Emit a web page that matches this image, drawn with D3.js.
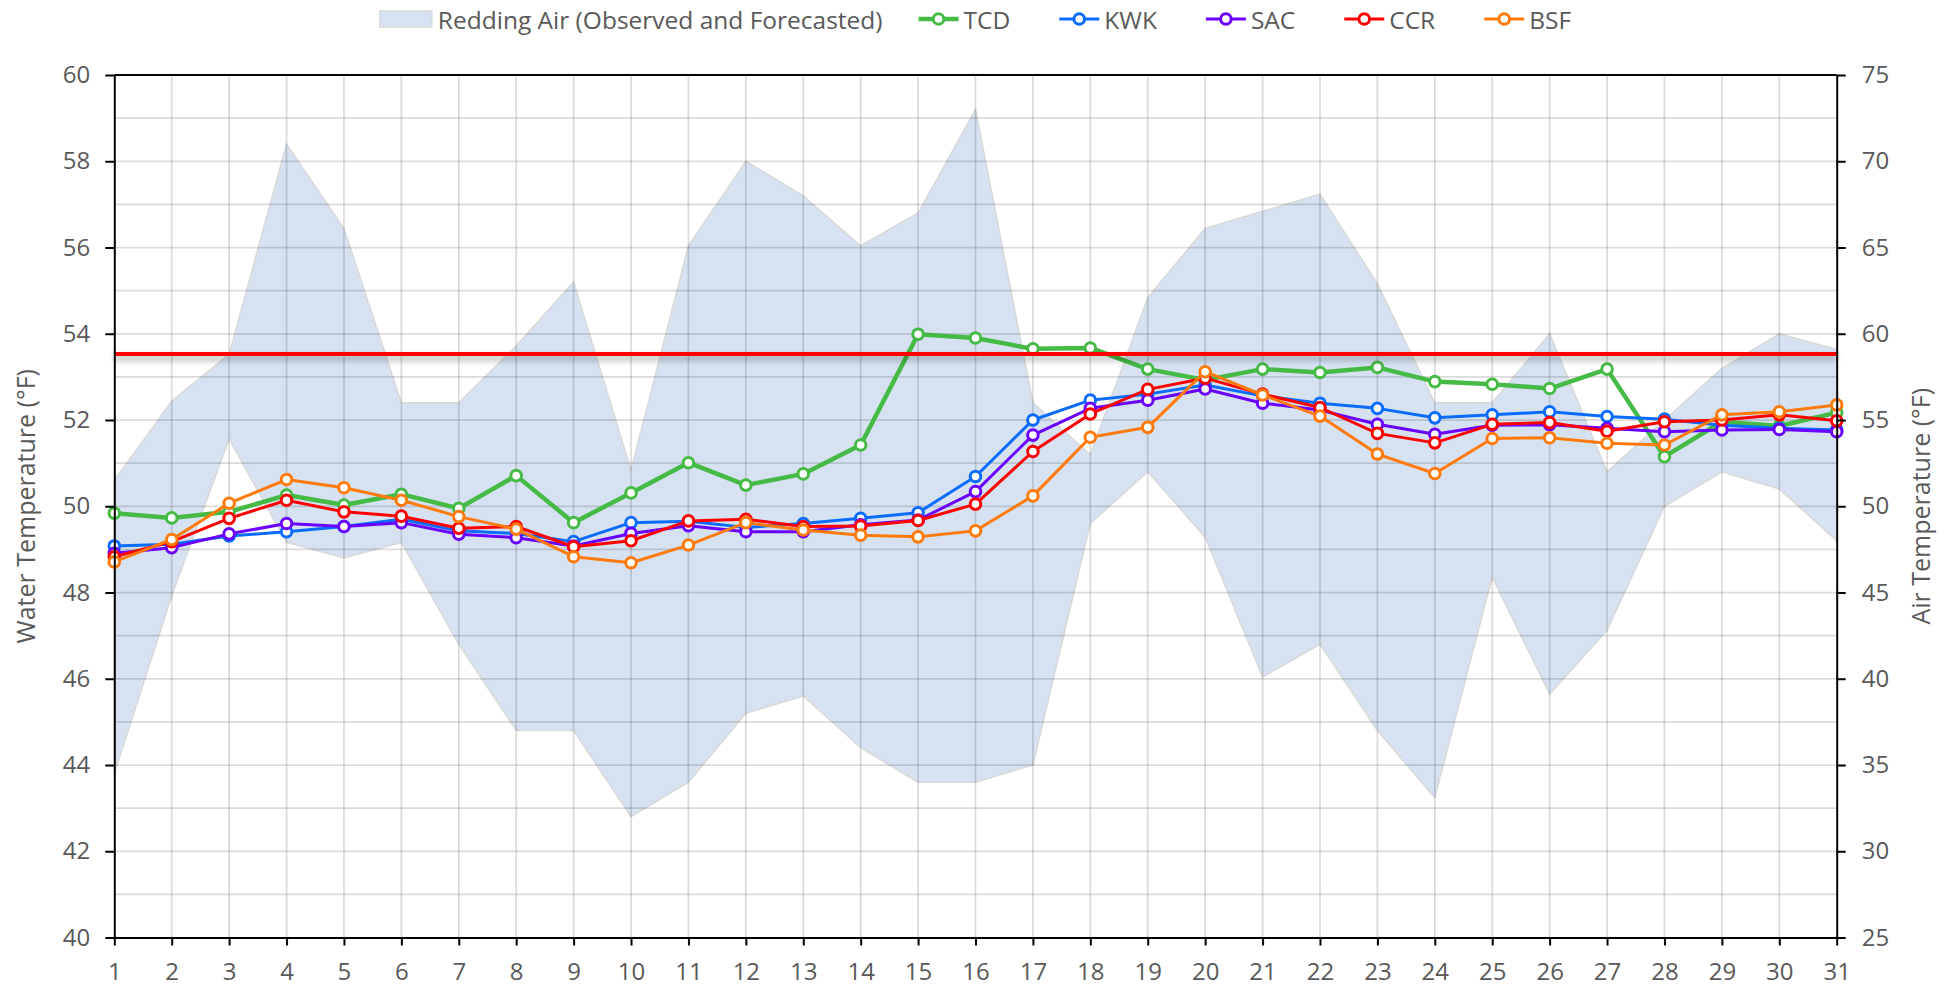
<!DOCTYPE html>
<html>
<head>
<meta charset="utf-8">
<script src="https://cdn.jsdelivr.net/npm/d3@7"></script>
<style>
  html, body { margin: 0; padding: 0; background: #ffffff; }
  svg { display: block; font-family: "Open Sans", "Segoe UI", sans-serif; }
</style>
</head>
<body>
<svg id="chart" width="1948" height="988"></svg>
<script>
// ---------------- data ----------------
const days = [1,2,3,4,5,6,7,8,9,10,11,12,13,14,15,16,17,18,19,20,21,22,23,24,25,26,27,28,29,30,31];

const airHigh = [51.5,56.1,58.8,71.0,66.1,56.0,56.0,59.3,63.0,52.1,65.1,70.0,68.0,65.1,67.0,73.0,56.0,53.0,62.1,66.1,67.1,68.1,62.9,56.0,56.0,60.0,52.0,55.0,58.0,60.0,59.1];
const airLow  = [34.5,44.8,53.9,47.9,47.0,47.9,42.0,37.0,37.0,32.0,34.0,38.0,39.0,36.0,34.0,34.0,35.0,49.0,52.0,48.2,40.1,42.0,37.0,33.1,45.9,39.1,42.8,50.0,52.0,51.0,48.0];

const TCD = [49.84,49.73,49.87,50.26,50.03,50.28,49.95,50.71,49.62,50.31,51.01,50.49,50.75,51.42,53.99,53.90,53.65,53.67,53.18,52.93,53.18,53.10,53.22,52.89,52.83,52.73,53.18,51.15,51.96,51.86,52.17];
const KWK = [49.08,49.12,49.31,49.41,49.53,49.70,49.43,49.37,49.18,49.62,49.65,49.51,49.60,49.72,49.85,50.69,52.00,52.46,52.60,52.81,52.56,52.39,52.27,52.05,52.12,52.19,52.08,52.02,51.88,51.81,51.77];
const SAC = [48.91,49.04,49.36,49.60,49.53,49.62,49.35,49.27,49.08,49.37,49.55,49.41,49.41,49.57,49.68,50.34,51.65,52.27,52.46,52.72,52.39,52.23,51.90,51.67,51.88,51.89,51.81,51.73,51.77,51.78,51.73];
const CCR = [48.83,49.18,49.72,50.14,49.87,49.77,49.49,49.53,49.06,49.20,49.66,49.70,49.53,49.54,49.67,50.05,51.27,52.14,52.71,52.97,52.60,52.29,51.69,51.47,51.90,51.94,51.74,51.96,52.00,52.12,51.98];
const BSF = [48.71,49.23,50.07,50.62,50.43,50.14,49.76,49.47,48.83,48.69,49.10,49.62,49.45,49.33,49.29,49.43,50.24,51.60,51.83,53.12,52.58,52.09,51.21,50.76,51.57,51.59,51.46,51.42,52.12,52.19,52.35];

const threshold = 53.53;

const seriesNames  = ["TCD","KWK","SAC","CCR","BSF"];
const seriesValues = [TCD, KWK, SAC, CCR, BSF];
const seriesColors = ["#45BA45","#0A6CFF","#6A00FF","#FF0000","#FF7A0A"];
const seriesWidths = [4.5, 3, 3, 3, 3];

const leftTicks  = [40,42,44,46,48,50,52,54,56,58,60];
const rightTicks = [25,30,35,40,45,50,55,60,65,70,75];
const airLabel = "Redding Air (Observed and Forecasted)";
const leftTitle = "Water Temperature (°F)";
const rightTitle = "Air Temperature (°F)";

// ---------------- layout ----------------
const L = 114.3, R = 1836.7, T = 75, B = 937.5;
const textColor = "#595959";
const tickFont = 24;
const titleFont = 25;
const legendFont = 24.5;

const svg = d3.select("#chart");

const x  = d3.scaleLinear().domain([1,31]).range([L,R]);
const yL = d3.scaleLinear().domain([40,60]).range([B,T]);
const yR = d3.scaleLinear().domain([25,75]).range([B,T]);

const defs = svg.append("defs");
const f = defs.append("filter").attr("id","shadow")
  .attr("filterUnits","userSpaceOnUse")
  .attr("x",L-20).attr("y",yL(threshold)-30).attr("width",R-L+40).attr("height",60);
f.append("feDropShadow").attr("dx",0).attr("dy",4).attr("stdDeviation",3)
 .attr("flood-color","#000").attr("flood-opacity",0.35);

// air band
const band = days.map((d,i) => ({d, lo: airLow[i], hi: airHigh[i]}));
svg.append("path")
  .datum(band)
  .attr("d", d3.area().x(p => x(p.d)).y0(p => yR(p.lo)).y1(p => yR(p.hi)))
  .attr("fill","#D6E2F2")
  .attr("stroke","#D9D9D9")
  .attr("stroke-width",1.5);

// gridlines
const grid = svg.append("g").attr("stroke","#000").attr("stroke-opacity",0.14).attr("stroke-width",1.75);
d3.range(41,60).forEach(v => {
  grid.append("line").attr("x1",L).attr("x2",R).attr("y1",yL(v)).attr("y2",yL(v));
});
days.slice(1,-1).forEach(d => {
  grid.append("line").attr("x1",x(d)).attr("x2",x(d)).attr("y1",T).attr("y2",B);
});

// series lines
seriesValues.forEach((vals, si) => {
  const g = svg.append("g");
  g.append("path")
    .datum(vals)
    .attr("d", d3.line().x((v,i) => x(days[i])).y(v => yL(v)))
    .attr("fill","none")
    .attr("stroke",seriesColors[si])
    .attr("stroke-width",seriesWidths[si])
    .attr("stroke-linejoin","round");
  g.selectAll("circle").data(vals).join("circle")
    .attr("cx",(v,i) => x(days[i]))
    .attr("cy",v => yL(v))
    .attr("r",5.3)
    .attr("fill","#fff")
    .attr("stroke",seriesColors[si])
    .attr("stroke-width",3);
});

// threshold line
svg.append("line")
  .attr("x1",L).attr("x2",R)
  .attr("y1",yL(threshold)).attr("y2",yL(threshold))
  .attr("stroke","#FF0000").attr("stroke-width",4)
  .attr("filter","url(#shadow)");

// top border
svg.append("line").attr("x1",L).attr("x2",R).attr("y1",T).attr("y2",T)
  .attr("stroke","#000").attr("stroke-width",2);

// axes
function styleAxis(g){
  g.select(".domain").attr("stroke","#000").attr("stroke-width",2);
  g.selectAll(".tick line").attr("stroke","#000").attr("stroke-width",2);
  g.selectAll(".tick text").attr("fill",textColor).attr("font-size",tickFont)
    .attr("font-family","'Open Sans', sans-serif");
}
svg.append("g").attr("transform",`translate(${L},0)`)
  .call(d3.axisLeft(yL).tickValues(leftTicks).tickSize(9).tickPadding(15).tickSizeOuter(0))
  .call(styleAxis);
svg.append("g").attr("transform",`translate(${R},0)`)
  .call(d3.axisRight(yR).tickValues(rightTicks).tickSize(9).tickPadding(16).tickSizeOuter(0))
  .call(styleAxis);
svg.append("g").attr("transform",`translate(0,${B})`)
  .call(d3.axisBottom(x).tickValues(days).tickFormat(d3.format("d")).tickSize(8).tickPadding(17).tickSizeOuter(0))
  .call(styleAxis);

// axis titles
svg.append("text")
  .attr("transform",`translate(25,${(T+B)/2}) rotate(-90)`)
  .attr("text-anchor","middle").attr("dominant-baseline","central")
  .attr("fill",textColor).attr("font-size",titleFont)
  .text(leftTitle);
svg.append("text")
  .attr("transform",`translate(1920,${(T+B)/2}) rotate(-90)`)
  .attr("text-anchor","middle").attr("dominant-baseline","central")
  .attr("fill",textColor).attr("font-size",titleFont)
  .text(rightTitle);

// legend
const lg = svg.append("g");
const ly = 19;
const itemGap = 49;
let cx = 0;
const airG = lg.append("g");
airG.append("rect").attr("x",0).attr("y",ly-8).attr("width",52).attr("height",16)
  .attr("fill","#D6E2F2").attr("stroke","#D9D9D9").attr("stroke-width",1.5);
const airT = airG.append("text").attr("x",58).attr("y",ly).attr("dominant-baseline","central")
  .attr("fill",textColor).attr("font-size",legendFont).text(airLabel);
cx = 58 + airT.node().getComputedTextLength() + 36;
seriesNames.forEach((name, si) => {
  const g = lg.append("g").attr("transform",`translate(${cx},0)`);
  g.append("line").attr("x1",0).attr("x2",40).attr("y1",ly).attr("y2",ly)
    .attr("stroke",seriesColors[si]).attr("stroke-width",seriesWidths[si]);
  g.append("circle").attr("cx",20).attr("cy",ly).attr("r",5.3)
    .attr("fill","#fff").attr("stroke",seriesColors[si]).attr("stroke-width",3);
  const t = g.append("text").attr("x",45).attr("y",ly).attr("dominant-baseline","central")
    .attr("fill",textColor).attr("font-size",legendFont).text(name);
  cx += 45 + t.node().getComputedTextLength() + itemGap;
});
const totalW = cx - itemGap;
lg.attr("transform",`translate(${(L+R)/2 - totalW/2},0)`);
</script>
</body>
</html>
